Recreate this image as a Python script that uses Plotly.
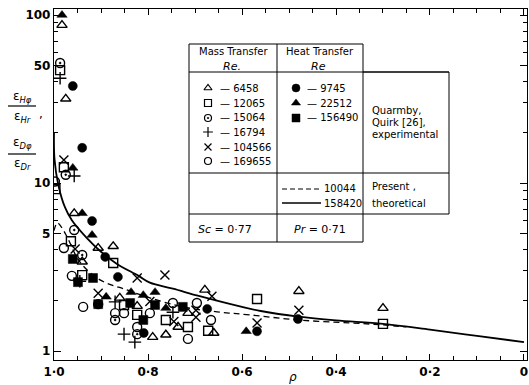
import plotly.graph_objects as go

# ---- experimental data: mass transfer (Re) ----
tri_open_x = [0.983, 0.975, 0.957, 0.906, 0.874, 0.940, 0.860, 0.823, 0.790, 0.762, 0.736, 0.715, 0.679, 0.660, 0.479, 0.300]
tri_open_y = [87, 31.7, 6.6, 4.1, 4.2, 3.4, 2.07, 1.85, 1.21, 1.25, 1.39, 1.68, 2.31, 1.28, 2.27, 1.80]

sq_open_x = [0.987, 0.979, 0.997, 0.964, 0.874, 0.940, 0.851, 0.823, 0.762, 0.715, 0.672, 0.568, 0.300]
sq_open_y = [47, 12.4, 9.2, 4.5, 3.34, 2.83, 1.88, 1.64, 1.53, 1.39, 1.32, 2.04, 1.45]

circ_dot_x = [0.987, 0.975, 0.957, 0.940, 0.870, 0.823]
circ_dot_y = [51.8, 11.2, 5.25, 3.73, 1.53, 1.26]

plus_x = [0.987, 0.957, 0.945, 0.870, 0.747, 0.851, 0.828]
plus_y = [42, 11.0, 2.6, 1.96, 1.70, 1.26, 1.13]

cross_x = [0.979, 0.955, 0.906, 0.823, 0.764, 0.796, 0.745, 0.698, 0.698, 0.664, 0.568, 0.479]
cross_y = [13.7, 4.05, 2.21, 2.72, 2.83, 1.97, 1.50, 1.75, 1.59, 2.12, 1.47, 1.75]

circ_open_x = [0.998, 0.979, 0.962, 0.938, 0.906, 0.870, 0.851, 0.823, 0.796, 0.747, 0.696, 0.715, 0.666]
circ_open_y = [10.2, 4.1, 2.8, 1.83, 1.9, 1.68, 1.68, 1.39, 1.68, 1.93, 1.93, 1.18, 1.53]

# ---- experimental data: heat transfer (Re) ----
dot_x = [0.960, 0.940, 0.919, 0.891, 0.864, 0.809, 0.674, 0.568, 0.481]
dot_y = [37.8, 16.2, 5.94, 3.63, 2.76, 1.28, 1.78, 1.31, 1.55]

tri_x = [0.983, 0.960, 0.940, 0.919, 0.889, 0.836, 0.810, 0.785, 0.762, 0.591]
tri_y = [100, 12.3, 6.6, 4.9, 2.1, 2.24, 2.15, 2.24, 1.80, 1.31]

sq_x = [0.960, 0.949, 0.917, 0.906, 0.838, 0.810, 0.785, 0.726]
sq_y = [3.53, 2.57, 2.72, 1.9, 1.93, 1.53, 1.88, 1.83]

# ---- theoretical curves ----
solid_x = [1.0, 0.999, 0.991, 0.977, 0.962, 0.930, 0.900, 0.866, 0.820, 0.796, 0.747, 0.690, 0.600, 0.560, 0.480, 0.400, 0.300, 0.200, 0.100, 0.0]
solid_y = [20, 14, 9.8, 7.2, 6.0, 4.7, 3.9, 3.3, 2.8, 2.55, 2.35, 2.12, 1.83, 1.73, 1.60, 1.52, 1.45, 1.34, 1.23, 1.13]

dashed_x = [1.0, 0.993, 0.985, 0.972, 0.945, 0.902, 0.845, 0.796, 0.726, 0.653, 0.583, 0.481, 0.370, 0.300, 0.250]
dashed_y = [5.2, 5.8, 5.5, 4.77, 3.39, 2.65, 2.31, 2.07, 1.83, 1.71, 1.64, 1.53, 1.47, 1.43, 1.39]

x_tick_vals = [1.0, 0.8, 0.6, 0.4, 0.2, 0.0]
x_tick_text = ["1·0", "0·8", "0·6", "0·4", "0·2", "0"]
y_tick_vals = [1, 5, 10, 50, 100]
y_tick_text = ["1", "5", "10", "50", "100"]

mass_re = ["6458", "12065", "15064", "16794", "104566", "169655"]
heat_re = ["9745", "22512", "156490"]
theory_re = ["10044", "158420"]

W, H = 529, 385
ML, MR, MT, MB = 54, 2, 9, 25
PW, PH = W - ML - MR, H - MT - MB
FONT = "DejaVu Sans"


def X(px):
    return (px - ML) / PW


def Y(py):
    return (H - MB - py) / PH


mass_symbols = ["triangle-up-open", "square-open", "circle-open-dot",
                "cross-thin-open", "x-thin-open", "circle-open"]
heat_symbols = ["circle", "triangle-up", "square"]

fig = go.Figure()

fig.add_trace(go.Scatter(x=solid_x, y=solid_y, mode="lines",
                         line=dict(color="black", width=1.8), line_shape="spline"))
fig.add_trace(go.Scatter(x=dashed_x, y=dashed_y, mode="lines",
                         line=dict(color="black", width=1.3, dash="6px,4px"), line_shape="spline"))

mass_sets = [(tri_open_x, tri_open_y), (sq_open_x, sq_open_y), (circ_dot_x, circ_dot_y),
             (plus_x, plus_y), (cross_x, cross_y), (circ_open_x, circ_open_y)]
heat_sets = [(dot_x, dot_y), (tri_x, tri_y), (sq_x, sq_y)]

for (xs, ys), sym in zip(mass_sets, mass_symbols):
    fig.add_trace(go.Scatter(x=xs, y=ys, mode="markers",
                             marker=dict(symbol=sym, size=9, color="black",
                                         line=dict(color="black", width=1.4))))
for (xs, ys), sym in zip(heat_sets, heat_symbols):
    fig.add_trace(go.Scatter(x=xs, y=ys, mode="markers",
                             marker=dict(symbol=sym, size=9, color="black",
                                         line=dict(color="black", width=0.5))))

# key symbols inside the table, placed on a pixel-scaled overlay axis
key_rows_mass = [88, 103, 118, 132, 147, 161]
key_rows_heat = [88, 103, 118]
fig.add_trace(go.Scatter(x=[208] * len(mass_symbols), y=key_rows_mass, mode="markers",
                         xaxis="x2", yaxis="y2",
                         marker=dict(symbol=mass_symbols, size=7, color="black",
                                     line=dict(color="black", width=1.2))))
fig.add_trace(go.Scatter(x=[296] * len(heat_symbols), y=key_rows_heat, mode="markers",
                         xaxis="x2", yaxis="y2",
                         marker=dict(symbol=heat_symbols, size=8, color="black",
                                     line=dict(color="black", width=0.5))))

shapes = []


def hline(x0, x1, y, width=1.0, dash=None):
    shapes.append(dict(type="line", xref="paper", yref="paper", x0=X(x0), x1=X(x1),
                       y0=Y(y), y1=Y(y), line=dict(color="black", width=width, dash=dash)))


def vline(x, y0, y1, width=1.0):
    shapes.append(dict(type="line", xref="paper", yref="paper", x0=X(x), x1=X(x),
                       y0=Y(y0), y1=Y(y1), line=dict(color="black", width=width)))


# table frame
hline(189, 363, 44)
hline(189, 449, 72)
hline(189, 449, 173)
hline(189, 449, 214)
hline(189, 363, 242)
hline(363, 449, 72)
vline(189, 44, 242)
vline(277, 44, 242)
vline(363, 44, 242)
vline(449, 72, 214)
# theory key lines
hline(282, 321, 189, width=1.2, dash="5px,3px")
hline(282, 321, 203, width=1.4)
# fraction bars of the y label
hline(8, 36, 106, width=1.2)
hline(8, 36, 154, width=1.2)

ann = []


def text(px, py, s, size=10, xanchor="center"):
    ann.append(dict(xref="paper", yref="paper", x=X(px), y=Y(py), text=s, showarrow=False,
                    xanchor=xanchor, yanchor="middle",
                    font=dict(family=FONT, size=size, color="black")))


text(233, 52, "Mass Transfer")
text(232, 66, "<i>Re.</i>", size=11)
text(320, 52, "Heat Transfer")
text(318, 66, "<i>Re</i>", size=11)
for r, py in zip(mass_re, key_rows_mass):
    text(218, py, "— " + r, xanchor="left")
for r, py in zip(heat_re, key_rows_heat):
    text(305, py, "— " + r, xanchor="left")
text(322, 189, theory_re[0], xanchor="left")
text(322, 203, theory_re[1], xanchor="left")
text(225, 229, "<i>Sc</i> = 0·77", size=11)
text(320, 229, "<i>Pr</i> = 0·71", size=11)
text(370, 110, "Quarmby,", xanchor="left")
text(370, 122, "Quirk [26],", xanchor="left")
text(370, 134, "experimental", xanchor="left")
text(370, 186, "Present ,", xanchor="left")
text(370, 203, "theoretical", xanchor="left")
# y-axis label as two stacked ratios
text(22, 97, "ε<sub><i>Hφ</i></sub>", size=12)
text(22, 117, "ε<sub><i>Hr</i></sub>", size=12)
text(41, 114, ",", size=12)
text(22, 143, "ε<sub><i>Dφ</i></sub>", size=12)
text(22, 164, "ε<sub><i>Dr</i></sub>", size=12)
# x-axis title
text(293, 377, "<i>ρ</i>", size=12)

axis_common = dict(showline=True, linecolor="black", linewidth=1.3, mirror="ticks",
                   ticks="inside", tickcolor="black", tickwidth=1.2, showgrid=False,
                   zeroline=False,
                   tickfont=dict(family=FONT, size=12, color="black", weight="bold"))

fig.update_layout(
    width=W, height=H,
    margin=dict(l=ML, r=MR, t=MT, b=MB),
    paper_bgcolor="white", plot_bgcolor="white",
    showlegend=False,
    shapes=shapes, annotations=ann,
    xaxis=dict(range=[1.0, -0.0064], tickvals=x_tick_vals, ticktext=x_tick_text,
               ticklen=6,
               minor=dict(tickvals=[0.95, 0.9, 0.85, 0.75, 0.7, 0.65, 0.55, 0.5, 0.45,
                                    0.35, 0.3, 0.25, 0.15, 0.1, 0.05],
                          ticks="inside", ticklen=4, tickcolor="black", tickwidth=1),
               **axis_common),
    yaxis=dict(type="log", range=[-0.0536, 2.0357], tickvals=y_tick_vals, ticktext=y_tick_text,
               ticklen=7,
               minor=dict(tickvals=[2, 3, 4, 6, 7, 8, 9, 20, 30, 40, 60, 70, 80, 90],
                          ticks="inside", ticklen=4, tickcolor="black", tickwidth=1),
               **axis_common),
    xaxis2=dict(range=[ML, W - MR], overlaying="x", visible=False, anchor="y2"),
    yaxis2=dict(range=[H - MB, MT], overlaying="y", visible=False, anchor="x2"),
)

fig.write_html("out.html")
